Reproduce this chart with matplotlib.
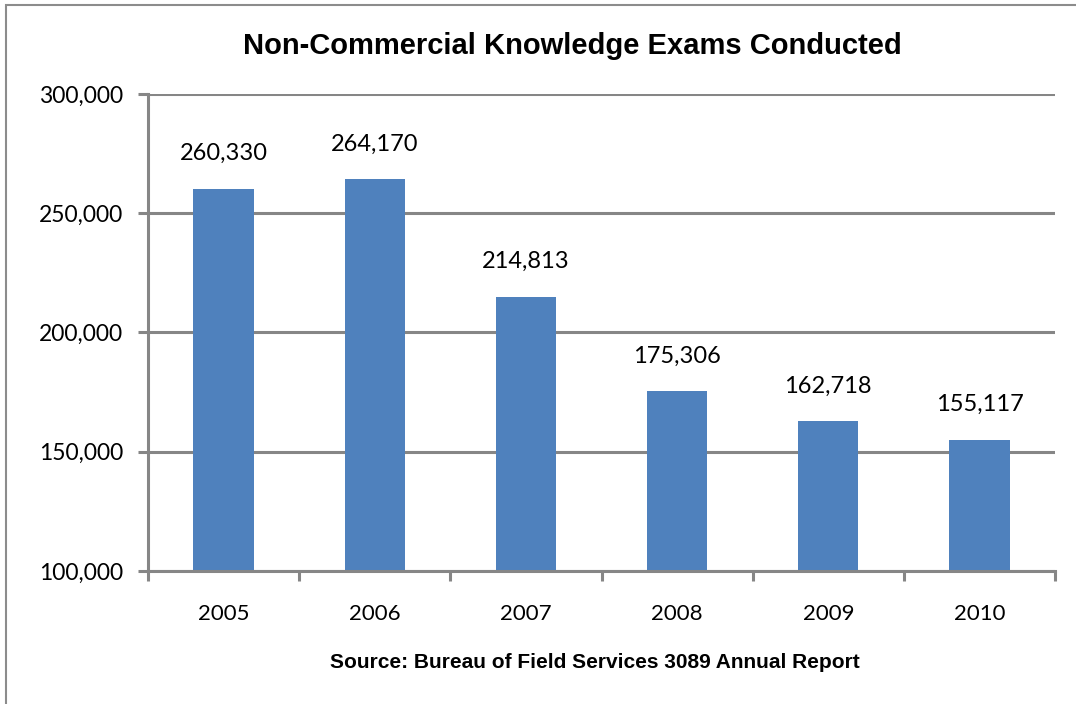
import matplotlib.pyplot as plt
import matplotlib.patches as patches
from matplotlib.ticker import FuncFormatter, FixedLocator

years = ["2005", "2006", "2007", "2008", "2009", "2010"]
exams = [260330, 264170, 214813, 175306, 162718, 155117]
y_ticks = [100000, 150000, 200000, 250000, 300000]

grid_col = "#868686"
bar_col = "#4f81bd"


def main():
    fig = plt.figure(figsize=(10.76, 7.04), dpi=100)
    # outer chart border (only left/top visible in the reference)
    fig.patches.append(patches.Rectangle((6 / 1076, -0.05), 1.2, (704 - 5) / 704 + 0.05,
                                         transform=fig.transFigure, fill=False,
                                         edgecolor="#8c8c8c", linewidth=1.5))
    ax = fig.add_axes([148 / 1076, (704 - 571) / 704, (1055 - 148) / 1076, (571 - 94) / 704])

    x = list(range(len(years)))
    ax.bar(x, exams, width=0.4, color=bar_col, zorder=3)
    ax.set_xlim(-0.5, len(years) - 0.5)
    ax.set_ylim(100000, 300000)
    ax.set_yticks(y_ticks)
    ax.yaxis.set_major_formatter(FuncFormatter(lambda v, p: f"{int(v):,}"))
    ax.grid(axis="y", color=grid_col, linewidth=2.2, zorder=0)

    ax.set_xticks(x)
    ax.set_xticklabels(years)
    ax.tick_params(axis="x", which="major", length=0, pad=24, labelsize=16)
    ax.xaxis.set_minor_locator(FixedLocator([i - 0.5 for i in range(len(years) + 1)]))
    ax.tick_params(axis="x", which="minor", length=7, width=2.2, color=grid_col)
    ax.tick_params(axis="y", length=7, width=2.2, color=grid_col, pad=11, labelsize=16.5)
    for lab in ax.get_xticklabels() + ax.get_yticklabels():
        lab.set_family("Lato")

    for s in ["top", "right"]:
        ax.spines[s].set_visible(False)
    for s in ["left", "bottom"]:
        ax.spines[s].set_color(grid_col)
        ax.spines[s].set_linewidth(2.2)
        ax.spines[s].set_zorder(4)

    for xi, v in zip(x, exams):
        ax.annotate(f"{v:,}", (xi, v), xytext=(0, 18), textcoords="offset points",
                    ha="center", va="bottom", fontsize=17, family="Lato")

    fig.text(572 / 1076, 1 - 46 / 704, "Non-Commercial Knowledge Exams Conducted",
             ha="center", va="center", fontsize=21, fontweight="bold", family="Liberation Sans")
    fig.text(595 / 1076, 1 - 662 / 704, "Source: Bureau of Field Services 3089 Annual Report",
             ha="center", va="center", fontsize=15, fontweight="bold", family="Liberation Sans")

    plt.savefig("out.png", dpi=100)


if __name__ == "__main__":
    main()
